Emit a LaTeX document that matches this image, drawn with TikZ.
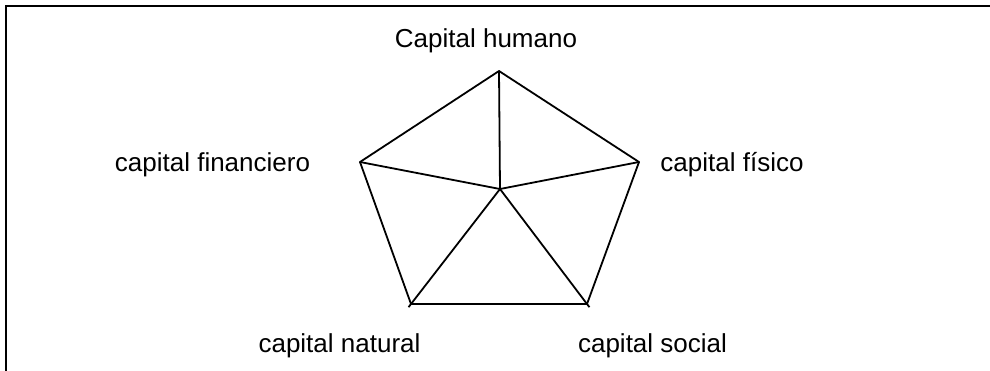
\documentclass[tikz,border=0pt]{standalone}
\usepackage{fontspec}
\setmainfont{Liberation Sans}
\usetikzlibrary{positioning}
\tikzset{
  lbl/.style   = {anchor=base, inner sep=0pt, font=\fontsize{13}{15.6}\selectfont},
  side/.style  = {line width=0.9pt, line cap=round},
  spoke/.style = {line width=0.9pt},
  frame/.style = {line width=1.3pt},
}
\begin{document}
\begin{tikzpicture}[x=0.5pt, y=-0.5pt]
  \useasboundingbox (0,0) rectangle (990,370);

  % ── frame (only top and left visible)
  \coordinate (fbl) at (6,372);
  \coordinate (ftl) at (6,6);
  \coordinate (ftr) at (992,6);
  \draw[frame] (fbl) -- (ftl) -- (ftr);

  % ── pentagon vertices
  \coordinate (top) at (499,71);
  \coordinate (lft) at (360,162);
  \coordinate (rgt) at (639,162);
  \coordinate (bl)  at (411,304);
  \coordinate (br)  at (587,304);
  \coordinate (ctr) at (500,189);

  % ── labels
  \node[lbl] (hum) at (486,47)    {Capital humano};
  \node[lbl] (fin) at (212.5,171) {capital financiero};
  \node[lbl] (fis) at (732,171)   {capital físico};
  \node[lbl] (nat) at (339.5,352) {capital natural};
  \node[lbl] (soc) at (652.5,352) {capital social};

  % ── outer sides
  \draw[side] (top) -- (lft);
  \draw[side] (top) -- (rgt);
  \draw[side] (lft) -- (bl);
  \draw[side] (rgt) -- (br);
  \draw[side] (bl)  -- (br);

  % ── spokes from the centre
  \foreach \v in {top, lft, rgt}
    \draw[spoke] (ctr) -- (\v);
  \foreach \v in {bl, br}
    \draw[spoke, shorten >=-2pt] (ctr) -- (\v);

\end{tikzpicture}
\end{document}
